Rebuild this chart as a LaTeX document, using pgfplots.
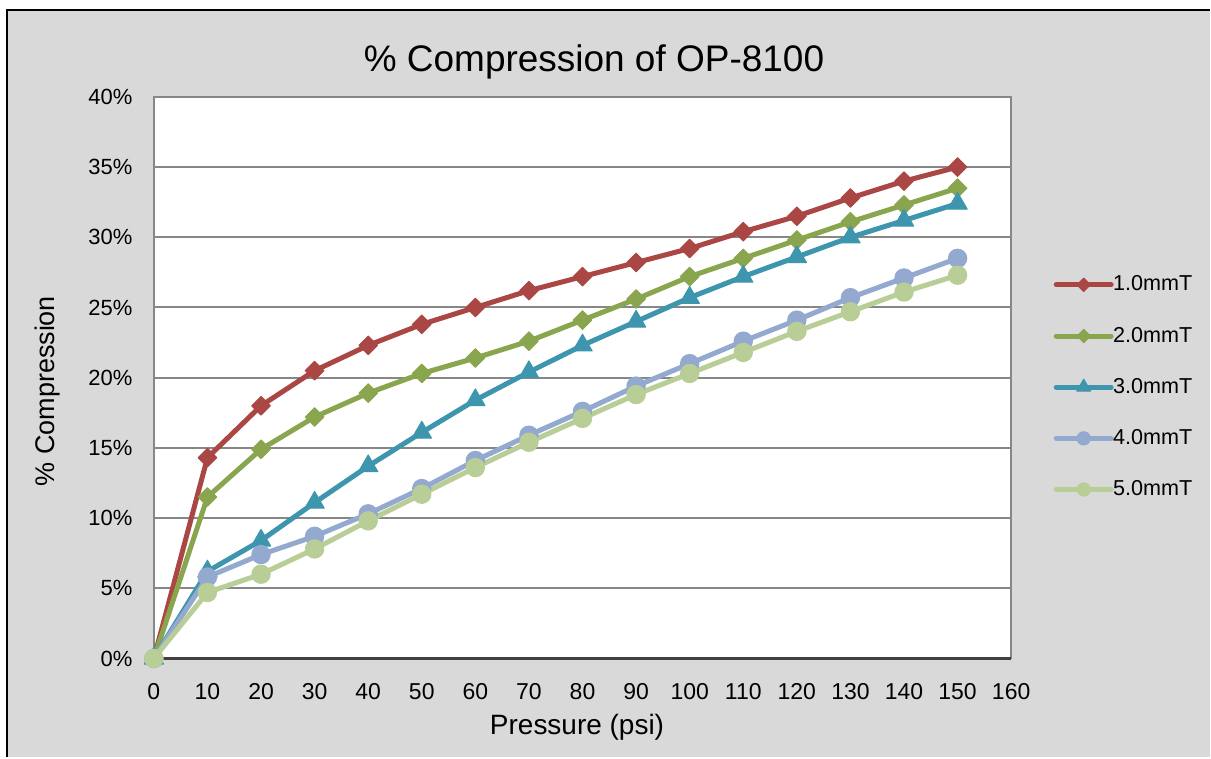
\documentclass[border=0pt]{standalone}
\usepackage{pgfplots}
\pgfplotsset{compat=1.18}
\usepackage{pgfplotstable}
\usepackage{fontspec}
\setmainfont{Liberation Sans}
\definecolor{bg}{HTML}{D9D9D9}
\definecolor{gridc}{HTML}{878787}
\definecolor{botc}{HTML}{404040}
\definecolor{cA}{HTML}{AA4643}
\definecolor{cB}{HTML}{89A54E}
\definecolor{cC}{HTML}{3D96AE}
\definecolor{cD}{HTML}{93A9CF}
\definecolor{cE}{HTML}{B9CD96}
\pgfplotstableread{
x a b c d e
0 0 0 0 0 0
10 14.3 11.5 6.2 5.8 4.7
20 18.0 14.9 8.4 7.4 6.0
30 20.5 17.2 11.1 8.7 7.8
40 22.3 18.9 13.7 10.3 9.8
50 23.8 20.3 16.1 12.1 11.7
60 25.0 21.4 18.4 14.1 13.6
70 26.2 22.6 20.4 15.9 15.4
80 27.2 24.1 22.3 17.6 17.1
90 28.2 25.6 24.0 19.4 18.8
100 29.2 27.2 25.7 21.0 20.3
110 30.4 28.5 27.2 22.6 21.8
120 31.5 29.8 28.6 24.1 23.3
130 32.8 31.1 30.0 25.7 24.7
140 34.0 32.3 31.2 27.1 26.1
150 35.0 33.5 32.4 28.5 27.3
}\data
\begin{document}
\begin{tikzpicture}
\fill[white] (0,0) rectangle (605.5pt,379pt);
\fill[bg] (3.5pt,0) rectangle (605.5pt,374pt);
\draw[black, line width=1pt] (3.5pt,0) -- (3.5pt,374pt) -- (605.5pt,374pt);
\useasboundingbox (0,0) rectangle (605.5pt,379pt);
\begin{axis}[
  at={(77pt,49.5pt)}, anchor=south west,
  scale only axis, width=429pt, height=281pt,
  xmin=0, xmax=160, ymin=0, ymax=40,
  xtick={0,10,...,160}, ytick={0,5,...,40},
  major tick length=0pt,
  axis background/.style={fill=white},
  axis line style={draw=gridc, line width=1pt},
  ymajorgrids, grid style={draw=gridc, line width=1pt},
  extra y ticks={0}, extra y tick labels={},
  extra y tick style={grid style={draw=botc, line width=1.2pt}},
  /pgf/number format/assume math mode=true,
  yticklabel={\pgfmathprintnumber{\tick}\%},
  yticklabel style={font=\fontsize{11}{13}\selectfont, inner sep=0pt, anchor=east, xshift=-10.5pt},
  xticklabel style={font=\fontsize{11.5}{13}\selectfont, inner sep=0pt, anchor=north, yshift=-12.5pt},
  title={\% Compression of OP-8100},
  every axis title/.style={font=\fontsize{18.5}{22}\selectfont, at={(axis description cs:0.5134,1.0445)}, anchor=base, inner sep=0pt},
  xlabel={Pressure (psi)},
  every axis x label/.style={font=\fontsize{14}{16}\selectfont, at={(axis description cs:0.4936,-0.135)}, anchor=base, inner sep=0pt},
  ylabel={\% Compression},
  every axis y label/.style={font=\fontsize{13.5}{16}\selectfont, at={(axis description cs:-0.1154,0.476)}, rotate=90, anchor=base, inner sep=0pt},
  clip=false,
  legend cell align=left,
  legend style={at={(axis description cs:1.0521,0.4831)}, anchor=west, draw=none, fill=none, inner sep=0pt,
    font=\fontsize{10.8}{12}\selectfont, row sep=13.6pt, column sep=1pt, nodes={inner sep=0pt}},
  legend image code/.code={
    \path[draw=none, fill=none, use as bounding box] (0pt,-6pt) rectangle (27.5pt,6pt);
    \draw[mark repeat=2,mark phase=2,#1, every mark/.append style={scale=0.72}] plot coordinates {(0pt,0pt) (13.75pt,0pt) (27.5pt,0pt)};},
  every axis plot/.append style={line width=2.5pt, line join=round, line cap=round},
]
\addplot[cA, mark=square*, mark size=3.3pt, mark options={rotate=45, line width=0.5pt, solid}] table[x=x,y=a] {\data};
\addplot[cB, mark=square*, mark size=3.3pt, mark options={rotate=45, line width=0.5pt, solid}] table[x=x,y=b] {\data};
\addplot[cC, mark=triangle*, mark size=5.6pt, mark options={line width=0.5pt, solid}] table[x=x,y=c] {\data};
\addplot[cD, mark=*, mark size=4.6pt, mark options={line width=0.5pt, solid}] table[x=x,y=d] {\data};
\addplot[cE, mark=*, mark size=4.6pt, mark options={line width=0.5pt, solid}] table[x=x,y=e] {\data};
\legend{1.0mmT,2.0mmT,3.0mmT,4.0mmT,5.0mmT}
\end{axis}
\end{tikzpicture}
\end{document}
